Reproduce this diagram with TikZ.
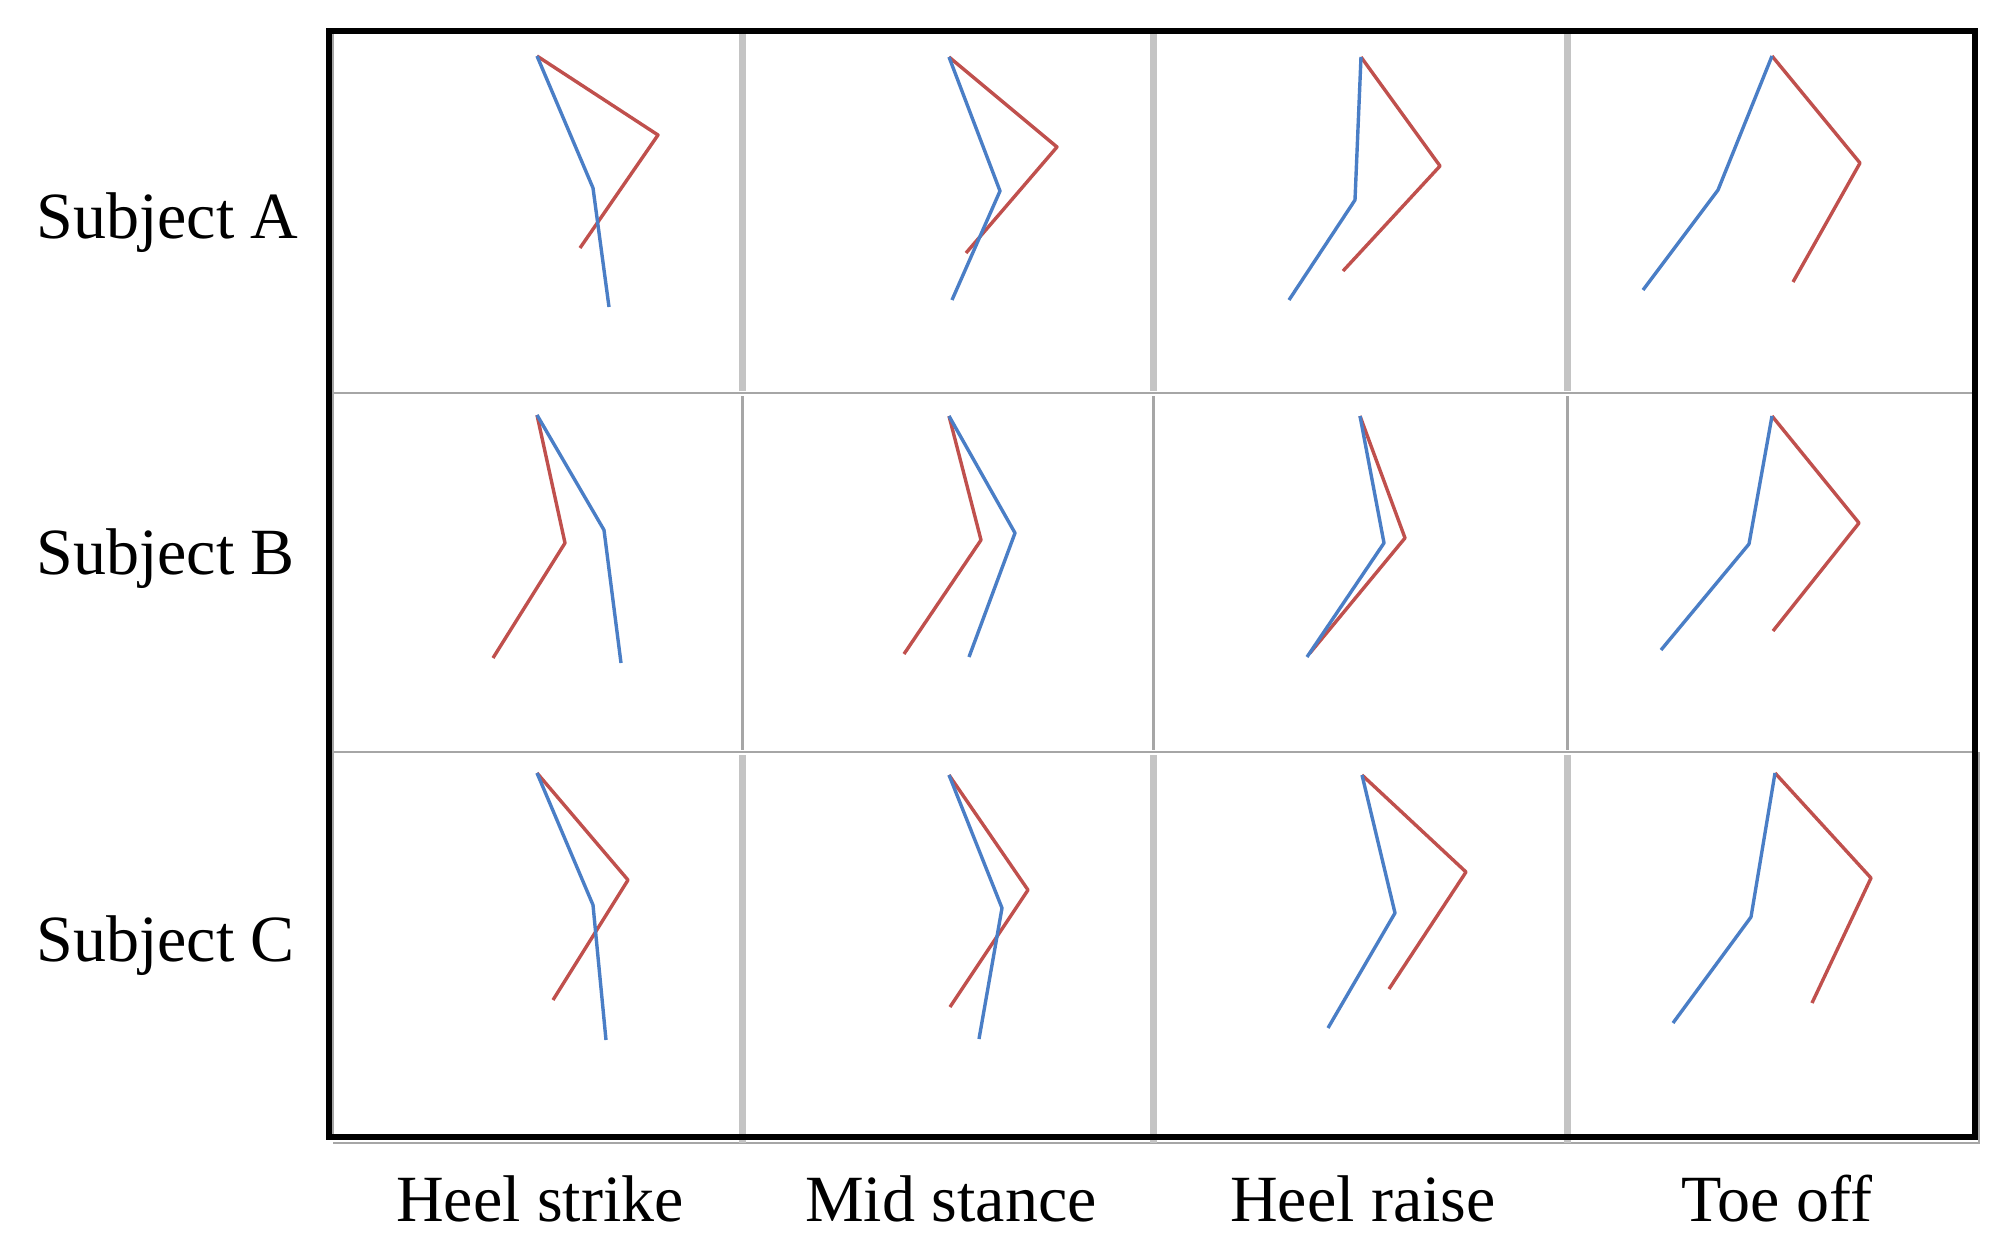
\documentclass[tikz,border=0pt]{standalone}
\usepackage{fontspec}
\setmainfont{Liberation Serif}
\definecolor{legblue}{HTML}{4A7EC6}
\definecolor{legred}{HTML}{C0504D}
\definecolor{gridlight}{HTML}{C4C4C4}
\definecolor{griddark}{HTML}{A6A6A6}
\newcommand\gaitfig[5]{%
  \draw[redleg] #1 -- #2 -- #3;
  \draw[blueleg] #1 -- #4 -- #5;
}
\tikzset{
  redleg/.style={legred, line width=1.7pt, line join=round},
  blueleg/.style={legblue, line width=1.7pt, line join=round},
  thickgrid/.style={gridlight, line width=3.5pt},
  thingrid/.style={griddark, line width=1.5pt},
  hgrid/.style={griddark, line width=1pt},
  lbl/.style={font=\fontsize{33}{40}\selectfont, inner sep=0pt}
}
\begin{document}
\begin{tikzpicture}[x=0.5pt,y=-0.5pt]
\useasboundingbox (0,0) rectangle (1994,1248);
\fill[white] (0,0) rectangle (1994,1248);
% shadow lines
\draw[griddark, line width=1.2pt] (333,1143) -- (1979,1143) -- (1979,752);
% cell borders
\draw[griddark, line width=1pt] (333,34) -- (333,1136);
\draw[hgrid] (333,393) -- (1972,393);
\draw[hgrid] (333,752) -- (1972,752);
\foreach \cx in {742,1153,1567}{
  \draw[thickgrid] (\cx,34) -- (\cx,391);
  \draw[thingrid] (\cx,396) -- (\cx,750);
  \draw[thickgrid] (\cx,755) -- (\cx,1143);
}
% frame
\draw[black, line width=3pt] (329,31) rectangle (1975,1137);
% Subject A
\gaitfig{(537,56)}{(658,135)}{(580,248)}{(593,188)}{(609,307)}
\gaitfig{(949,57)}{(1057,147)}{(966,253)}{(1000,191)}{(952,300)}
\gaitfig{(1361,57)}{(1440,166)}{(1343,271)}{(1355,200)}{(1289,300)}
\gaitfig{(1772,56)}{(1860,163)}{(1793,282)}{(1718,190)}{(1643,290)}
% Subject B
\gaitfig{(537,415)}{(565,543)}{(493,658)}{(604,530)}{(621,663)}
\gaitfig{(949,416)}{(981,540)}{(904,654)}{(1015,533)}{(969,657)}
\gaitfig{(1360,416)}{(1405,538)}{(1310,653)}{(1384,543)}{(1307,657)}
\gaitfig{(1772,416)}{(1859,523)}{(1773,631)}{(1749,544)}{(1661,650)}
% Subject C
\gaitfig{(537,773)}{(628,880)}{(553,1000)}{(593,905)}{(606,1040)}
\gaitfig{(949,775)}{(1028,890)}{(950,1007)}{(1002,908)}{(979,1039)}
\gaitfig{(1362,775)}{(1466,872)}{(1389,989)}{(1395,913)}{(1328,1028)}
\gaitfig{(1775,773)}{(1871,878)}{(1812,1003)}{(1751,917)}{(1673,1023)}
% row labels
\node[lbl, anchor=base west] (subA) at (36,238) {Subject A};
\node[lbl, anchor=base west] (subB) at (36,574) {Subject B};
\node[lbl, anchor=base west] (subC) at (36,961) {Subject C};
% column labels
\node[lbl, anchor=base] (heelstrike) at (540,1221) {Heel strike};
\node[lbl, anchor=base] (midstance) at (951,1221) {Mid stance};
\node[lbl, anchor=base] (heelraise) at (1363,1221) {Heel raise};
\node[lbl, anchor=base] (toeoff) at (1777,1221) {Toe off};
\end{tikzpicture}
\end{document}
